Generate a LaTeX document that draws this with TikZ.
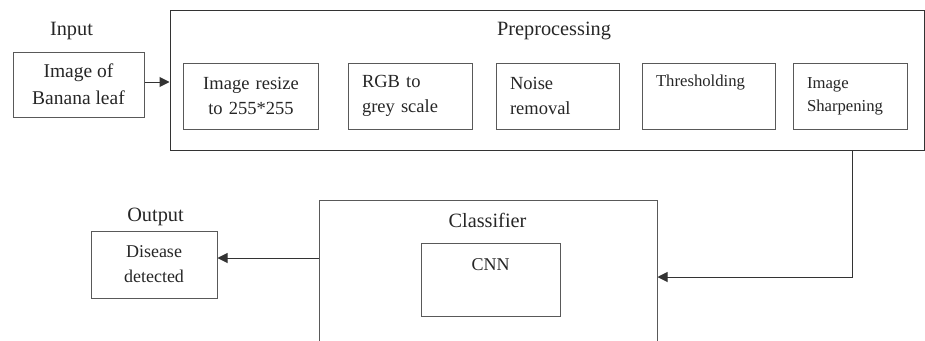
\documentclass[tikz,border=0pt]{standalone}
\usepackage{fontspec}
\setmainfont{Liberation Serif}
\usetikzlibrary{arrows.meta}

\tikzset{
  caja/.style={draw=black!65, line width=1pt, rectangle, inner sep=0pt, text=black!85},
  paso/.style={caja, minimum height=66pt, inner xsep=14pt, align=left,
    font=\fontsize{18.5}{25}\selectfont},
  titulo/.style={anchor=base, text=black!85, font=\fontsize{20.3}{24}\selectfont},
  flecha/.style={draw=black!80, line width=1pt, -{Triangle[length=10pt,width=10pt]}},
}

\begin{document}
\begin{tikzpicture}[x=1pt,y=-1pt]
    		\useasboundingbox (0,0) rectangle (925,340);
    		\clip (0,0) rectangle (925,340);
    		%entrada
    		\node[titulo] at (71.5,35) (inlbl) {Input};
    		\node[caja, minimum width=131pt, minimum height=65pt, align=center,
    		      font=\fontsize{19.5}{27}\selectfont] at (78.5,84.5) (in) {Image of\\Banana leaf};
  		%%%% PREPROCESAMIENTO
  		\node[caja, draw=black!80, minimum width=754pt, minimum height=140pt] at (547,80) (prep) {};
  		\node[titulo] at (554,35) (preplbl) {Preprocessing};
  		\node[paso, text width=107pt, align=center] at (251,96) (resize) {Image resize\\to 255*255};
  		\node[paso, text width=96pt] at (410,96) (gris) {RGB to\\grey scale};
  		\node[paso, text width=95pt] at (557.5,96) (ruido) {Noise\\removal};
  		\node[paso, text width=105pt, font=\fontsize{16.7}{23}\selectfont] at (708.5,96) (umbral) {Thresholding\\\strut};
  		\node[paso, text width=86pt, font=\fontsize{16.7}{23}\selectfont] at (850,96) (nitidez) {Image\\Sharpening};
  		%%%% CLASIFICADOR
  		\node[caja, minimum width=338pt, minimum height=160pt] at (488,280) (clf) {};
  		\node[titulo] at (487.5,227) (clflbl) {Classifier};
  		\node[caja, minimum width=139pt, minimum height=73pt, text height=12pt, text depth=31pt,
  		      font=\fontsize{18}{22}\selectfont] at (490.5,279.5) (cnn) {CNN};
  		%salida
  		\node[titulo] at (155.5,221) (outlbl) {Output};
  		\node[caja, minimum width=126pt, minimum height=67pt, align=center,
  		      font=\fontsize{18}{25}\selectfont] at (154,264.5) (out) {Disease\\detected};
  		%%%% FLECHAS
  		\coordinate (codo) at (852,277);
  		\draw[flecha] (in.east |- 0,82) -- (prep.west |- 0,82);
  		\draw[flecha] (codo |- prep.south) -- (codo) -- (codo -| clf.east);
  		\draw[flecha] (clf.west |- 0,258) -- (out.east |- 0,258);
	\end{tikzpicture}
\end{document}
